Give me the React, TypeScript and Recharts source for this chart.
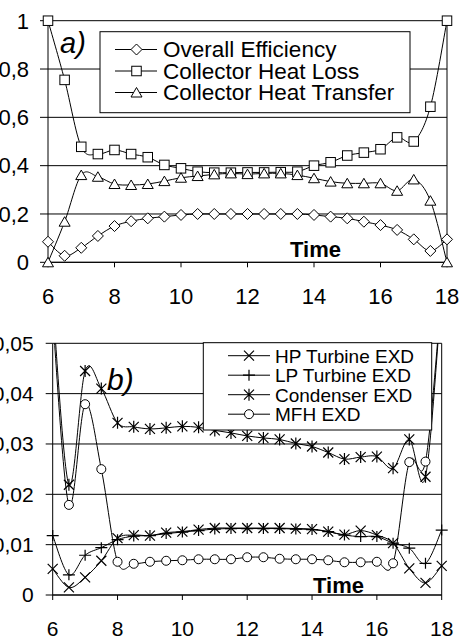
import React from 'react';
import { LineChart, Line, XAxis, YAxis, CartesianGrid, ReferenceLine } from 'recharts';

const FONT = '"Liberation Sans", Arial, sans-serif';

const hours = [6, 6.5, 7, 7.5, 8, 8.5, 9, 9.5, 10, 10.5, 11, 11.5, 12, 12.5, 13, 13.5, 14, 14.5, 15, 15.5, 16, 16.5, 17, 17.5, 18];

// chart a)
const overallEfficiency = [0.085, 0.027, 0.06, 0.109, 0.15, 0.17, 0.182, 0.189, 0.196, 0.2, 0.2, 0.2, 0.2, 0.2, 0.2, 0.2, 0.196, 0.189, 0.182, 0.168, 0.154, 0.134, 0.095, 0.047, 0.095];
const collectorHeatLoss = [1.0, 0.755, 0.478, 0.448, 0.465, 0.448, 0.435, 0.403, 0.389, 0.375, 0.371, 0.371, 0.372, 0.372, 0.373, 0.375, 0.4, 0.414, 0.442, 0.454, 0.468, 0.517, 0.5, 0.644, 1.0];
const collectorHeatTransfer = [0, 0.168, 0.361, 0.354, 0.324, 0.32, 0.324, 0.336, 0.35, 0.357, 0.364, 0.368, 0.365, 0.368, 0.368, 0.361, 0.348, 0.334, 0.327, 0.327, 0.327, 0.296, 0.343, 0.255, 0];

// chart b)
const hpTurbineExd = [0.0052, 0.0015, 0.0035, 0.0068, 0.0113, 0.0119, 0.0118, 0.0124, 0.0126, 0.013, 0.0133, 0.0133, 0.0133, 0.0133, 0.0133, 0.0132, 0.0131, 0.0126, 0.012, 0.0128, 0.0119, 0.0103, 0.0053, 0.0024, 0.0058];
const lpTurbineExd = [0.0118, 0.004, 0.0079, 0.0094, 0.011, 0.0117, 0.0118, 0.0122, 0.0125, 0.0128, 0.0131, 0.0132, 0.0132, 0.0132, 0.0132, 0.0131, 0.013, 0.0126, 0.0119, 0.0116, 0.0116, 0.0103, 0.0093, 0.0063, 0.0129];
const condenserExd = [0.058, 0.0219, 0.0445, 0.041, 0.0342, 0.0334, 0.033, 0.0332, 0.0335, 0.0333, 0.0327, 0.0322, 0.0316, 0.0312, 0.0309, 0.0301, 0.0295, 0.0283, 0.027, 0.0274, 0.0275, 0.0252, 0.0309, 0.0235, 0.06];
const mfhExd = [0.055, 0.0179, 0.0379, 0.025, 0.0066, 0.0062, 0.0066, 0.0068, 0.0069, 0.0071, 0.0071, 0.0071, 0.0075, 0.0075, 0.0072, 0.0071, 0.0071, 0.0069, 0.0065, 0.0065, 0.0066, 0.0063, 0.0264, 0.0265, 0.06];

const xTicks = [6, 8, 10, 12, 14, 16, 18];
const topYTicks = [0, 0.2, 0.4, 0.6, 0.8, 1];
const bottomYTicks = [0, 0.01, 0.02, 0.03, 0.04, 0.05];
const bottomMax = 0.05;

const topSeries = [
  { key: 'eff', name: 'Overall Efficiency', shape: 'diamond' },
  { key: 'loss', name: 'Collector Heat Loss', shape: 'square' },
  { key: 'transfer', name: 'Collector Heat Transfer', shape: 'triangle' },
];
const bottomSeries = [
  { key: 'hp', name: 'HP Turbine EXD', shape: 'x' },
  { key: 'lp', name: 'LP Turbine EXD', shape: 'plus' },
  { key: 'cond', name: 'Condenser EXD', shape: 'star' },
  { key: 'mfh', name: 'MFH EXD', shape: 'circle' },
];

const topData = hours.map((h, i) => ({
  hour: h,
  eff: overallEfficiency[i],
  loss: collectorHeatLoss[i],
  transfer: collectorHeatTransfer[i],
}));
const bottomData = hours.map((h, i) => ({
  hour: h,
  hp: hpTurbineExd[i],
  lp: lpTurbineExd[i],
  cond: condenserExd[i],
  mfh: mfhExd[i],
}));

const fmt = (v: number) => String(v).replace('.', ',');

// Excel-like smoothed line (Catmull-Rom through the points)
function excelSmooth(context: any) {
  let xs: number[] = [];
  let ys: number[] = [];
  return {
    areaStart() {},
    areaEnd() {},
    lineStart() {
      xs = [];
      ys = [];
    },
    point(x: number, y: number) {
      xs.push(+x);
      ys.push(+y);
    },
    lineEnd() {
      const n = xs.length;
      if (!n) return;
      context.moveTo(xs[0], ys[0]);
      if (n === 1) {
        context.lineTo(xs[0], ys[0]);
        return;
      }
      for (let i = 0; i < n - 1; i++) {
        const i0 = Math.max(i - 1, 0);
        const i3 = Math.min(i + 2, n - 1);
        const c1x = xs[i] + (xs[i + 1] - xs[i0]) / 6;
        const c1y = ys[i] + (ys[i + 1] - ys[i0]) / 6;
        const c2x = xs[i + 1] - (xs[i3] - xs[i]) / 6;
        const c2y = ys[i + 1] - (ys[i3] - ys[i]) / 6;
        context.bezierCurveTo(c1x, c1y, c2x, c2y, xs[i + 1], ys[i + 1]);
      }
    },
  };
}

function Marker({ shape, cx, cy }: { shape: string; cx: number; cy: number }) {
  const st = { fill: '#fff', stroke: '#000', strokeWidth: 1 };
  switch (shape) {
    case 'diamond':
      return <polygon points={`${cx},${cy - 5.5} ${cx + 5.5},${cy} ${cx},${cy + 5.5} ${cx - 5.5},${cy}`} {...st} />;
    case 'square':
      return <rect x={cx - 4.75} y={cy - 4.75} width={9.5} height={9.5} {...st} />;
    case 'triangle':
      return <polygon points={`${cx},${cy - 5} ${cx + 5.5},${cy + 4.5} ${cx - 5.5},${cy + 4.5}`} {...st} />;
    case 'x':
      return <path d={`M${cx - 5},${cy - 5}L${cx + 5},${cy + 5}M${cx - 5},${cy + 5}L${cx + 5},${cy - 5}`} fill="none" stroke="#000" strokeWidth={1.2} />;
    case 'plus':
      return <path d={`M${cx - 6},${cy}L${cx + 6},${cy}M${cx},${cy - 5.5}L${cx},${cy + 5.5}`} fill="none" stroke="#000" strokeWidth={1.2} />;
    case 'star':
      return <path d={`M${cx - 5},${cy - 5}L${cx + 5},${cy + 5}M${cx - 5},${cy + 5}L${cx + 5},${cy - 5}M${cx},${cy - 6}L${cx},${cy + 6}`} fill="none" stroke="#000" strokeWidth={1.2} />;
    case 'circle':
      return <circle cx={cx} cy={cy} r={4.5} {...st} />;
    default:
      return null;
  }
}

const makeDot = (shape: string) => (props: any) => {
  const { cx, cy, index } = props;
  if (cx == null || cy == null || isNaN(cx) || isNaN(cy)) return <g key={`d-${shape}-${index}`} />;
  return <Marker key={`d-${shape}-${index}`} shape={shape} cx={cx} cy={cy} />;
};

function App() {
  return (
    <div style={{ position: 'absolute', left: 0, top: 0, width: 459, height: 639, background: '#fff', fontFamily: FONT }}>
      <div style={{ position: 'absolute', left: 0, top: 0 }}>
        <LineChart width={459} height={310} data={topData} margin={{ top: 20.7, right: 12, bottom: 17.7, left: 0 }}>
          <CartesianGrid vertical={false} stroke="#000" />
          <XAxis
            dataKey="hour"
            type="number"
            domain={[6, 18]}
            ticks={xTicks}
            height={30}
            tickSize={5}
            tickMargin={21}
            stroke="#000"
            tick={{ fontSize: 22, fill: '#000', fontFamily: FONT }}
          />
          <YAxis
            type="number"
            domain={[0, 1]}
            ticks={topYTicks}
            width={48}
            tickSize={8}
            tickMargin={11}
            tickFormatter={fmt}
            stroke="#000"
            tick={{ fontSize: 22, fill: '#000', fontFamily: FONT }}
          />
          <ReferenceLine x={18} stroke="#000" />
          {topSeries.map((s) => (
            <Line
              key={s.key}
              dataKey={s.key}
              name={s.name}
              type={excelSmooth as any}
              stroke="#000"
              strokeWidth={1}
              dot={makeDot(s.shape)}
              activeDot={false}
              isAnimationActive={false}
            />
          ))}
        </LineChart>
      </div>
      <div style={{ position: 'absolute', left: 0, top: 310 }}>
        <LineChart width={459} height={329} data={bottomData} margin={{ top: 33.3, right: 17.3, bottom: 14, left: 0 }}>
          <CartesianGrid vertical={false} stroke="#000" yAxisId="a" />
          <XAxis
            dataKey="hour"
            type="number"
            domain={[6, 18]}
            ticks={xTicks}
            height={30}
            tickSize={5}
            tickMargin={21}
            stroke="#000"
            tick={{ fontSize: 21, fill: '#000', fontFamily: FONT }}
          />
          <YAxis
            yAxisId="a"
            type="number"
            domain={[0, bottomMax]}
            ticks={bottomYTicks}
            width={52.7}
            tickSize={7}
            tickMargin={12}
            tickFormatter={fmt}
            stroke="#000"
            tick={{ fontSize: 21, fill: '#000', fontFamily: FONT }}
          />
          <YAxis yAxisId="b" type="number" domain={[0, bottomMax]} allowDataOverflow hide width={0} />
          <ReferenceLine x={18} stroke="#000" yAxisId="a" />
          {bottomSeries.map((s) => (
            <Line
              key={`line-${s.key}`}
              yAxisId="b"
              dataKey={s.key}
              name={s.name}
              type={excelSmooth as any}
              stroke="#000"
              strokeWidth={1}
              dot={false}
              activeDot={false}
              legendType="none"
              isAnimationActive={false}
            />
          ))}
          {bottomSeries.map((s) => (
            <Line
              key={`dots-${s.key}`}
              yAxisId="a"
              dataKey={(d: any) => (d[s.key] > bottomMax ? null : d[s.key])}
              name={s.name}
              type="linear"
              stroke="none"
              dot={makeDot(s.shape)}
              activeDot={false}
              isAnimationActive={false}
            />
          ))}
        </LineChart>
      </div>
      <svg width={459} height={639} style={{ position: 'absolute', left: 0, top: 0, pointerEvents: 'none' }}>
        {/* legend a) */}
        <rect x={100} y={31.7} width={310} height={81} fill="#fff" stroke="#000" strokeWidth={1} />
        {topSeries.map((s, i) => {
          const cy = 49.5 + i * 21.5;
          return (
            <g key={s.key}>
              <line x1={115} x2={157} y1={cy} y2={cy} stroke="#000" strokeWidth={1} />
              <Marker shape={s.shape} cx={136.5} cy={cy} />
              <text x={163} y={cy + 7.6} fontSize={22.5} fontFamily={FONT} fill="#000">{s.name}</text>
            </g>
          );
        })}
        <text x={60} y={53.3} fontSize={29} fontStyle="italic" fontFamily={FONT} fill="#000">a)</text>
        <text x={290} y={257} fontSize={22} fontWeight="bold" fontFamily={FONT} fill="#000">Time</text>

        {/* legend b) */}
        <rect x={203.3} y={342.7} width={228.4} height={87.3} fill="#fff" stroke="#000" strokeWidth={1} />
        {bottomSeries.map((s, i) => {
          const cy = 355.7 + i * 19.5;
          return (
            <g key={s.key}>
              <line x1={228} x2={270} y1={cy} y2={cy} stroke="#000" strokeWidth={1} />
              <Marker shape={s.shape} cx={249} cy={cy} />
              <text x={275} y={cy + 7} fontSize={19} fontFamily={FONT} fill="#000">{s.name}</text>
            </g>
          );
        })}
        <text x={107} y={390} fontSize={30} fontStyle="italic" fontFamily={FONT} fill="#000">b)</text>
        <text x={313} y={593.3} fontSize={22} fontWeight="bold" fontFamily={FONT} fill="#000">Time</text>
      </svg>
    </div>
  );
}

export default App;
